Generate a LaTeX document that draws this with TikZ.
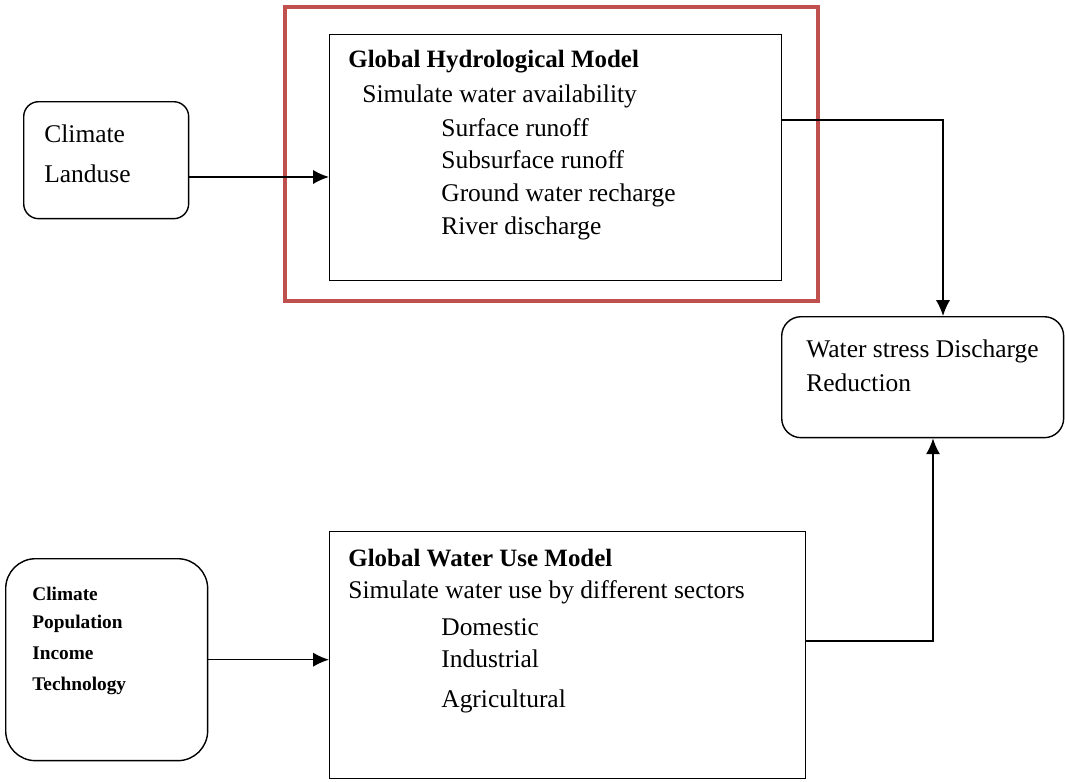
\documentclass[tikz,border=0pt]{standalone}
\usepackage{fontspec}
\setmainfont{Liberation Serif}
\usetikzlibrary{arrows.meta}

\begin{document}
\begin{tikzpicture}[x=0.02cm,y=-0.02cm,
    box/.style={draw,line width=0.8pt,anchor=north west,inner sep=0pt},
    txt/.style={anchor=west,inner sep=0pt,font=\fontsize{14.5}{17}\selectfont},
    titletxt/.style={anchor=west,inner sep=0pt,font=\fontsize{14.2}{17}\selectfont\bfseries},
    smalltxt/.style={anchor=west,inner sep=0pt,font=\fontsize{11}{13}\selectfont\bfseries},
    flow/.style={line width=0.8pt,-{Latex[length=9pt,width=8pt]}}]
    \definecolor{framered}{RGB}{192,80,77}
    \useasboundingbox (0,0) rectangle (1065,781);

    % boxes
    \node[box,minimum width=9.04cm,minimum height=4.92cm] (ghm) at (329,34) {};
    \node[box,rounded corners=8.5pt,minimum width=3.3cm,minimum height=2.34cm] (clim) at (23,101) {};
    \node[box,rounded corners=11pt,minimum width=5.64cm,minimum height=2.42cm] (stress) at (781,316) {};
    \node[box,minimum width=9.52cm,minimum height=4.94cm] (gwu) at (329,531) {};
    \node[box,rounded corners=17pt,minimum width=4.04cm,minimum height=4.04cm] (drivers) at (5,558) {};

    % highlight frame
    \draw[framered,line width=2.8pt] (285,7) rectangle (818,301);

    % hydrological model text
    \node[titletxt] (ghmtitle) at (348,62) {Global Hydrological Model};
    \node[txt] (ghmsub) at (362,96) {Simulate water availability};
    \node[txt] (surf) at (441,128) {Surface runoff};
    \node[txt] (subsurf) at (441,160) {Subsurface runoff};
    \node[txt] (recharge) at (441,195) {Ground water recharge};
    \node[txt] (river) at (441,228) {River discharge};

    % inputs
    \node[txt] (climtxt) at (44,134) {Climate};
    \node[txt] (landtxt) at (44,174) {Landuse};
    \node[smalltxt] (d1) at (32,594) {Climate};
    \node[smalltxt] (d2) at (32,624) {Population};
    \node[smalltxt] (d3) at (32,653) {Income};
    \node[smalltxt] (d4) at (32,686) {Technology};

    % output
    \node[txt] (stresstxt) at (806,351) {Water stress Discharge};
    \node[txt] (reducetxt) at (806,383) {Reduction};

    % water use model text
    \node[titletxt] (gwutitle) at (348,558) {Global Water Use Model};
    \node[txt] (gwusub) at (348,592) {Simulate water use by different sectors};
    \node[txt] (dom) at (441,627) {Domestic};
    \node[txt] (ind) at (441,659) {Industrial};
    \node[txt] (agr) at (441,701) {Agricultural};

    % connectors
    \draw[flow] (clim.east |- 0,177) -- (ghm.west |- 0,177);
    \draw[flow] (ghm.east |- 0,120) -| (stress.north -| 943,0);
    \draw[flow] (drivers.east) -- (gwu.west |- drivers.east);
    \draw[flow] (gwu.east |- 0,641) -| (stress.south -| 933,0);
\end{tikzpicture}
\end{document}
